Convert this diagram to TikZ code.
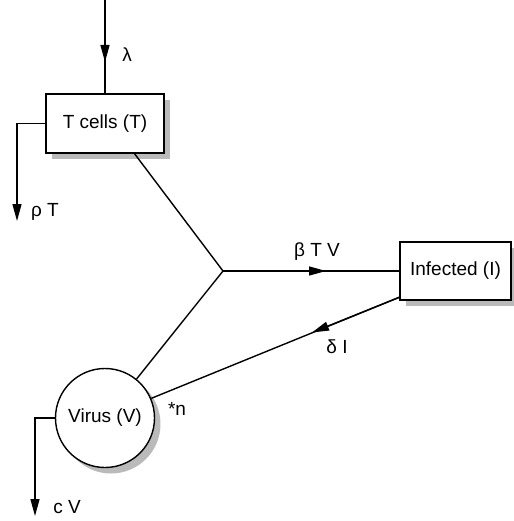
\documentclass[tikz,border=0pt]{standalone}
\usepackage{fontspec}
\setmainfont{Liberation Sans}
\usetikzlibrary{arrows.meta,shadows,calc}
\begin{document}
\begin{tikzpicture}[x=1pt,y=-1pt,
  line width=1.4pt,
  font=\fontsize{19}{22}\selectfont,
  tip/.style={-{Triangle[length=17pt,width=9pt]}},
  shad/.style={drop shadow={shadow xshift=6pt,shadow yshift=-6pt,fill=black!27,opacity=1}},
  boxnode/.style={draw,fill=white,shad,inner sep=0pt},
  lab/.style={inner sep=0pt}]
\useasboundingbox (0,0) rectangle (513,521);
% nodes
\node[boxnode,minimum width=118pt,minimum height=59pt] (T) at (105,123.5) {T cells (T)};
\node[boxnode,minimum width=111pt,minimum height=58pt] (I) at (455.5,271) {Infected (I)};
\node[boxnode,circle,minimum size=99pt] (V) at (105,418) {Virus (V)};
% coordinates
\coordinate (top) at (105,0);
\coordinate (lamtip) at (105,62);
\coordinate (rhoend) at (17,221);
\coordinate (Tout) at (134,153);
\coordinate (J) at (223,271);
\coordinate (btvtip) at (326,271);
\coordinate (Iout) at (400,297);
\coordinate (ditip) at (312,332.5);
\coordinate (cvend) at (35,516);
% connectors
\draw (top) -- (T.north);
\draw[tip] (top) -- (lamtip);
\draw[tip] (T.west) -| (rhoend);
\draw (Tout) -- (J);
\draw (J) -- (I.west);
\draw[tip] (J) -- (btvtip);
\draw (J) -- (V.51);
\draw (Iout) -- (V.23);
\draw[tip] (Iout) -- (ditip);
\draw[tip] (V.west) -| (cvend);
% labels
\node[lab] (lam) at (127,55) {λ};
\node[lab] (rho) at (45,212) {ρ T};
\node[lab] (btv) at (317,252) {β T V};
\node[lab] (di) at (337,347) {δ I};
\node[lab] (n) at (177,409) {*n};
\node[lab] (cv) at (67,507) {c V};
\end{tikzpicture}
\end{document}
